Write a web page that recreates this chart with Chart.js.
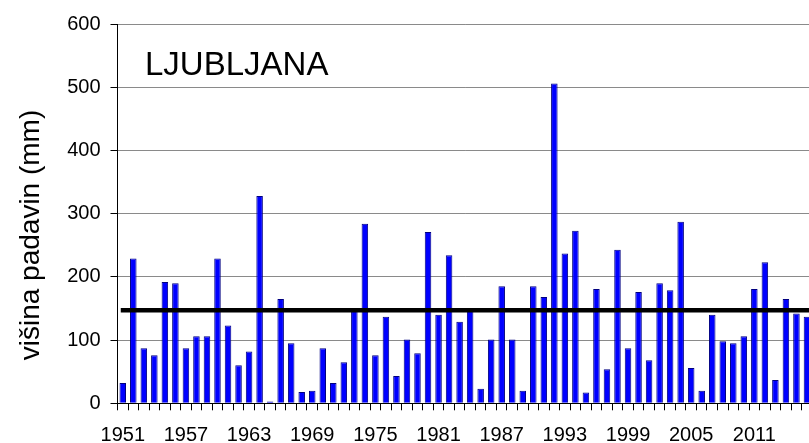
<!DOCTYPE html>
<html>
<head>
<meta charset="utf-8">
<script src="https://cdn.jsdelivr.net/npm/chart.js@4/dist/chart.umd.min.js"></script>
<style>
  html, body { margin: 0; padding: 0; background: #fff; overflow: hidden; }
  #wrap { width: 820px; height: 443px; }
</style>
</head>
<body>
<div id="wrap"><canvas id="rain-chart"></canvas></div>
<script>
// years (categories)
const years = [
  1951, 1952, 1953, 1954, 1955, 1956, 1957, 1958, 1959, 1960, 1961, 1962,
  1963, 1964, 1965, 1966, 1967, 1968, 1969, 1970, 1971, 1972, 1973, 1974,
  1975, 1976, 1977, 1978, 1979, 1980, 1981, 1982, 1983, 1984, 1985, 1986,
  1987, 1988, 1989, 1990, 1991, 1992, 1993, 1994, 1995, 1996, 1997, 1998,
  1999, 2000, 2001, 2002, 2003, 2004, 2005, 2006, 2007, 2008, 2009, 2010,
  2011, 2012, 2013, 2014, 2015, 2016,
];

// precipitation height (mm) per year
const rainfall = [
  32, 229, 87, 76, 192, 190, 87, 106, 106, 229, 123, 60,
  82, 328, 3, 165, 95, 18, 20, 87, 32, 65, 146, 284,
  76, 137, 43, 101, 79, 271, 140, 234, 129, 146, 23, 101,
  185, 101, 20, 185, 168, 506, 237, 273, 17, 181, 54, 243,
  87, 176, 68, 190, 179, 287, 56, 20, 140, 98, 95, 106,
  181, 223, 37, 165, 142, 137,
];

// long-term average
const MEAN = 147;

// labelled years on the x axis
const labelYears = [1951, 1957, 1963, 1969, 1975, 1981, 1987, 1993, 1999, 2005, 2011];
const yTicks = [0, 100, 200, 300, 400, 500, 600];

const FONT = "'Liberation Sans', Arial, sans-serif";

// thick black mean line + station name + y title
const extras = {
  id: "extras",
  afterDatasetsDraw(chart) {
    const { ctx, chartArea, scales } = chart;
    const y = scales.y.getPixelForValue(MEAN);
    const x0 = scales.x.getPixelForValue(0) - 2;
    ctx.save();
    ctx.strokeStyle = "#000";
    ctx.lineWidth = 4.5;
    ctx.beginPath();
    ctx.moveTo(x0, y);
    ctx.lineTo(chartArea.right, y);
    ctx.stroke();
    ctx.restore();
  },
  afterDraw(chart) {
    const { ctx } = chart;
    ctx.save();
    ctx.fillStyle = "#000";
    ctx.font = "33px " + FONT;
    ctx.textAlign = "left";
    ctx.textBaseline = "alphabetic";
    ctx.fillText("LJUBLJANA", 145, 75);

    ctx.translate(31, 235);
    ctx.rotate(-Math.PI / 2);
    ctx.font = "28px " + FONT;
    ctx.textAlign = "center";
    ctx.textBaseline = "middle";
    ctx.fillText("višina padavin (mm)", 0, 0);
    ctx.restore();
  },
};

function drawChart() {
  const ctx = document.getElementById("rain-chart").getContext("2d");

  new Chart(ctx, {
    type: "bar",
    data: {
      labels: years,
      datasets: [
        {
          label: "padavine",
          data: rainfall,
          backgroundColor: "#0000FF",
          borderColor: "#000080",
          borderWidth: 1,
          barPercentage: 0.62,
          categoryPercentage: 1,
        },
      ],
    },
    options: {
      responsive: true,
      maintainAspectRatio: false,
      animation: false,
      layout: { padding: { top: 24, right: 4, left: 0, bottom: 0 } },
      plugins: {
        legend: { display: false },
        tooltip: { enabled: false },
      },
      scales: {
        x: {
          grid: {
            drawOnChartArea: false,
            tickLength: 7,
            tickColor: "#000",
            offset: true,
          },
          border: { color: "#000", width: 1 },
          ticks: {
            autoSkip: false,
            maxRotation: 0,
            padding: 13,
            color: "#000",
            font: { family: FONT, size: 20 },
            callback: (val, i) =>
              labelYears.includes(years[i]) ? String(years[i]) : "",
          },
          afterFit: (s) => { s.height = 39.7; },
        },
        y: {
          min: 0,
          max: 600,
          afterBuildTicks: (s) => { s.ticks = yTicks.map((v) => ({ value: v })); },
          grid: {
            color: "#8a8a8a",
            lineWidth: 1,
            tickLength: 7,
            tickColor: "#000",
          },
          border: { color: "#000", width: 1 },
          ticks: {
            padding: 10,
            color: "#000",
            font: { family: FONT, size: 20 },
          },
          afterFit: (s) => { s.width = 117.5; },
        },
      },
    },
    plugins: [extras],
  });
}

document.addEventListener("DOMContentLoaded", drawChart);
</script>
</body>
</html>
